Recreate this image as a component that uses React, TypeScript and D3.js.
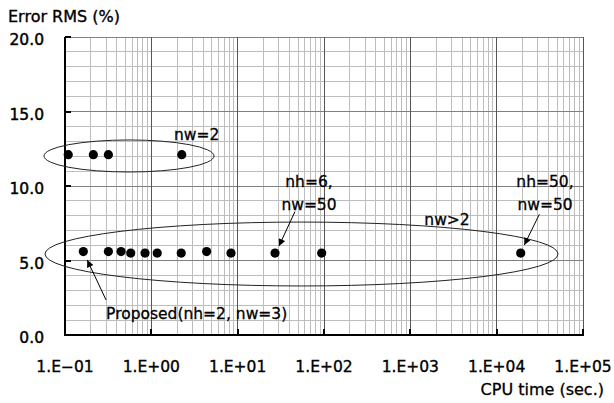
import React, { useRef, useEffect } from 'react';
import * as d3 from 'd3';

// nw = 2 runs
const nw2Time = [0.109, 0.213, 0.318, 2.25];
const nw2Err = [12.1, 12.1, 12.1, 12.1];

// nw > 2 runs (first one is the proposed setting)
const nwGt2Time = [0.163, 0.318, 0.446, 0.577, 0.845, 1.17, 2.22, 4.37, 8.37, 27.1, 94, 19000];
const nwGt2Err = [5.6, 5.6, 5.6, 5.5, 5.5, 5.5, 5.5, 5.6, 5.5, 5.5, 5.5, 5.5];

const xTicks = [0.1, 1, 10, 100, 1000, 10000, 100000];
const xTickLabels = ['1.E\u221201', '1.E+00', '1.E+01', '1.E+02', '1.E+03', '1.E+04', '1.E+05'];
const yTicks = [0, 5, 10, 15, 20];
const yTickLabels = ['0.0', '5.0', '10.0', '15.0', '20.0'];

// annotations, in data coordinates
const groupBounds = [
  { x0: 0.0571, x1: 5.32, y0: 10.94, y1: 13.09 },
  { x0: 0.0586, x1: 51400, y0: 3.29, y1: 7.58 },
];
const noteTexts = ['nw=2', 'nh=6,', 'nw=50', 'nh=50,', 'nw=50', 'nw>2', 'Proposed(nh=2, nw=3)'];
const noteX = [1.83, 67, 67, 36300, 36300, 2660, 0.299];
const noteY = [13.09, 9.93, 8.39, 9.93, 8.39, 7.38, 1.07];
const noteAnchor = ['start', 'middle', 'middle', 'middle', 'middle', 'middle', 'start'];
const arrowFrom = [[0.299, 2.35], [46.1, 8.28], [31200, 8.1]];
const arrowTo = [[0.181, 5.03], [30.1, 5.97], [20900, 6.04]];

const W = 614;
const H = 403;
const FONT = '"DejaVu Sans", sans-serif';

const Chart = () => {
  const svgRef = useRef(null);

  useEffect(() => {
    const svg = d3.select(svgRef.current);
    svg.selectAll('*').remove();

    const left = 65, right = 583, top = 37, bottom = 335;

    const x = d3.scaleLog().domain([0.1, 100000]).range([left, right]);
    const y = d3.scaleLinear().domain([0, 20]).range([bottom, top]);

    svg.append('rect').attr('width', W).attr('height', H).attr('fill', '#fff');

    // minor grid
    const minorX = [];
    for (let e = -1; e < 5; e++) {
      for (let k = 2; k <= 9; k++) minorX.push(k * Math.pow(10, e));
    }
    const g = svg.append('g').attr('shape-rendering', 'crispEdges');
    g.selectAll('.mx').data(minorX).enter().append('line')
      .attr('x1', d => x(d)).attr('x2', d => x(d))
      .attr('y1', top).attr('y2', bottom)
      .attr('stroke', '#bdbdbd');
    g.selectAll('.my').data(d3.range(1, 20).filter(v => v % 5 !== 0)).enter().append('line')
      .attr('x1', left).attr('x2', right)
      .attr('y1', d => y(d)).attr('y2', d => y(d))
      .attr('stroke', '#bdbdbd');
    // major grid
    g.selectAll('.My').data([5, 10, 15, 20]).enter().append('line')
      .attr('x1', left).attr('x2', right)
      .attr('y1', d => y(d)).attr('y2', d => y(d))
      .attr('stroke', '#808080');
    g.selectAll('.Mx').data(xTicks.slice(1)).enter().append('line')
      .attr('x1', d => x(d)).attr('x2', d => x(d))
      .attr('y1', top).attr('y2', bottom)
      .attr('stroke', '#555');

    // axes
    g.append('line').attr('x1', left).attr('x2', left).attr('y1', top).attr('y2', bottom + 1)
      .attr('stroke', '#000').attr('stroke-width', 2);
    g.append('line').attr('x1', left - 1).attr('x2', right + 1).attr('y1', bottom).attr('y2', bottom)
      .attr('stroke', '#000').attr('stroke-width', 2);
    g.selectAll('.yt').data(yTicks).enter().append('line')
      .attr('x1', left).attr('x2', left + 6)
      .attr('y1', d => y(d)).attr('y2', d => y(d))
      .attr('stroke', '#000').attr('stroke-width', 2);
    g.selectAll('.xt').data(xTicks).enter().append('line')
      .attr('x1', d => x(d)).attr('x2', d => x(d))
      .attr('y1', bottom).attr('y2', bottom - 6)
      .attr('stroke', '#000').attr('stroke-width', 2);

    // tick labels
    svg.selectAll('.yl').data(yTicks).enter().append('text')
      .attr('x', 44).attr('y', d => y(d) + 8)
      .attr('text-anchor', 'end')
      .attr('font-family', FONT).attr('font-size', 15.5)
      .attr('stroke', '#000').attr('stroke-width', 0.45)
      .text((d, i) => yTickLabels[i]);
    svg.selectAll('.xl').data(xTicks).enter().append('text')
      .attr('x', d => x(d)).attr('y', 372)
      .attr('text-anchor', 'middle')
      .attr('font-family', FONT).attr('font-size', 15.5)
      .attr('stroke', '#000').attr('stroke-width', 0.35)
      .text((d, i) => xTickLabels[i]);

    svg.append('text').attr('x', 8).attr('y', 22)
      .attr('font-family', FONT).attr('font-size', 16)
      .attr('stroke', '#000').attr('stroke-width', 0.35)
      .text('Error RMS (%)');
    svg.append('text').attr('x', 604).attr('y', 395)
      .attr('text-anchor', 'end')
      .attr('font-family', FONT).attr('font-size', 16)
      .attr('stroke', '#000').attr('stroke-width', 0.3)
      .text('CPU time (sec.)');

    // group ellipses
    svg.selectAll('.el').data(groupBounds).enter().append('ellipse')
      .attr('cx', d => (x(d.x0) + x(d.x1)) / 2)
      .attr('cy', d => (y(d.y0) + y(d.y1)) / 2)
      .attr('rx', d => (x(d.x1) - x(d.x0)) / 2)
      .attr('ry', d => (y(d.y0) - y(d.y1)) / 2)
      .attr('fill', 'none').attr('stroke', '#222').attr('stroke-width', 1);

    // points
    const pts = nw2Time.map((t, i) => [t, nw2Err[i]])
      .concat(nwGt2Time.map((t, i) => [t, nwGt2Err[i]]));
    svg.selectAll('.pt').data(pts).enter().append('circle')
      .attr('cx', d => x(d[0])).attr('cy', d => y(d[1]))
      .attr('r', 4.6).attr('fill', '#000');

    // arrows
    svg.append('defs').append('marker')
      .attr('id', 'head').attr('viewBox', '0 0 10 10')
      .attr('refX', 10).attr('refY', 5)
      .attr('markerWidth', 9).attr('markerHeight', 7)
      .attr('markerUnits', 'userSpaceOnUse')
      .attr('orient', 'auto')
      .append('path').attr('d', 'M0,0L10,5L0,10Z').attr('fill', '#000');
    svg.selectAll('.ar').data(arrowFrom).enter().append('line')
      .attr('x1', d => x(d[0])).attr('y1', d => y(d[1]))
      .attr('x2', (d, i) => x(arrowTo[i][0])).attr('y2', (d, i) => y(arrowTo[i][1]))
      .attr('stroke', '#000').attr('stroke-width', 1)
      .attr('marker-end', 'url(#head)');

    // notes
    svg.selectAll('.nt').data(noteTexts).enter().append('text')
      .attr('x', (d, i) => x(noteX[i])).attr('y', (d, i) => y(noteY[i]))
      .attr('text-anchor', (d, i) => noteAnchor[i])
      .attr('font-family', FONT).attr('font-size', 15.5)
      .attr('stroke', '#000').attr('stroke-width', 0.3)
      .text(d => d);
  }, []);

  return <svg ref={svgRef} width={W} height={H} style={{ position: 'absolute', left: 0, top: 0 }}></svg>;
};

export default function App() {
  return <Chart />;
}
